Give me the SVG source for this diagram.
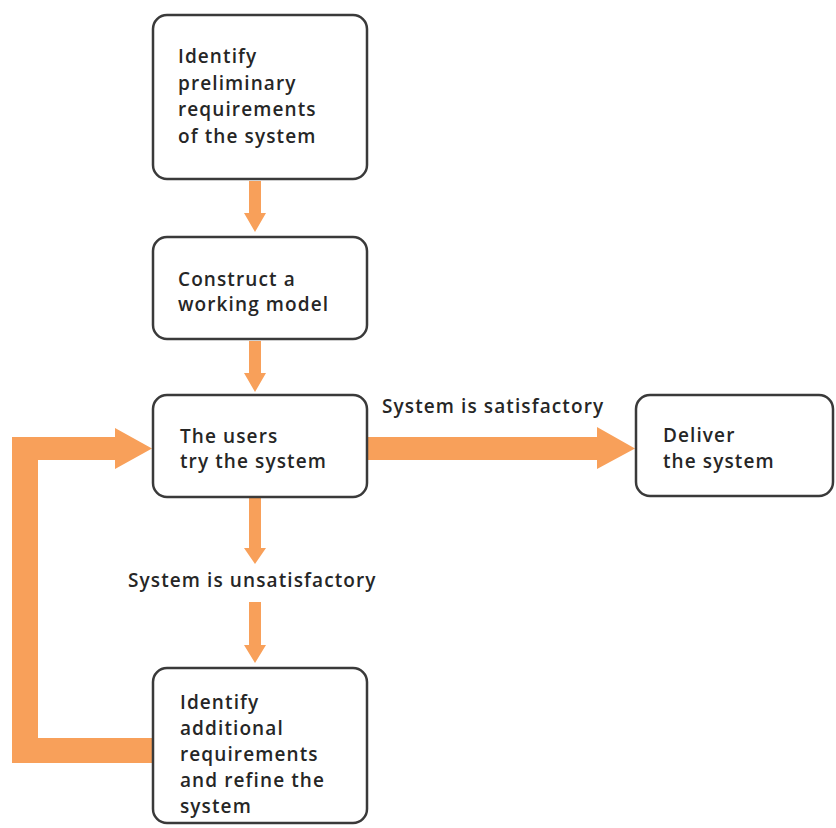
<svg xmlns="http://www.w3.org/2000/svg" width="836" height="828" viewBox="0 0 836 828">
<style>
.box{fill:#ffffff;stroke:#3a3a3a;stroke-width:2.5}
.lbl{font-family:"Open Sans","Liberation Sans",sans-serif;font-size:19px;font-weight:600;letter-spacing:1.1px;fill:#262626}
.arr{fill:#F8A05A}
</style>
<rect width="836" height="828" fill="#ffffff"/>
<g id="connectors">
<path class="arr" d="M249,181 H261 V213 H266 L255,232 L244,213 H249 Z"/>
<path class="arr" d="M249,341 H261 V373 H266 L255,392 L244,373 H249 Z"/>
<path class="arr" d="M249,498 H261 V548 H266 L255,564 L244,548 H249 Z"/>
<path class="arr" d="M249,602 H261 V645 H266 L255,663 L244,645 H249 Z"/>
<path class="arr" d="M368,437 H597 V427 L635,448.5 L597,469 V460 H368 Z"/>
<path class="arr" d="M153,763 H12 V437 H115 V428 L152,448.5 L115,469 V460 H38 V738 H153 Z"/>
<text class="lbl" x="382" y="413">System is satisfactory</text>
<text class="lbl" x="128" y="587">System is unsatisfactory</text>
</g>
<g id="node-identify-preliminary">
<rect class="box" x="153" y="15" width="214" height="164" rx="14"/>
<text class="lbl" x="178" y="63">Identify</text>
<text class="lbl" x="178" y="90">preliminary</text>
<text class="lbl" x="178" y="116">requirements</text>
<text class="lbl" x="178" y="143">of the system</text>
</g>
<g id="node-construct">
<rect class="box" x="153" y="237" width="214" height="102" rx="14"/>
<text class="lbl" x="178" y="286">Construct a</text>
<text class="lbl" x="178" y="311">working model</text>
</g>
<g id="node-users-try">
<rect class="box" x="153" y="395" width="214" height="102" rx="14"/>
<text class="lbl" x="180" y="443">The users</text>
<text class="lbl" x="180" y="468">try the system</text>
</g>
<g id="node-deliver">
<rect class="box" x="636" y="395" width="197" height="101" rx="14"/>
<text class="lbl" x="663" y="442">Deliver</text>
<text class="lbl" x="663" y="468">the system</text>
</g>
<g id="node-identify-additional">
<rect class="box" x="153" y="668" width="214" height="155" rx="14"/>
<text class="lbl" x="180" y="709">Identify</text>
<text class="lbl" x="180" y="735">additional</text>
<text class="lbl" x="180" y="761">requirements</text>
<text class="lbl" x="180" y="787">and refine the</text>
<text class="lbl" x="180" y="813">system</text>
</g>
</svg>
